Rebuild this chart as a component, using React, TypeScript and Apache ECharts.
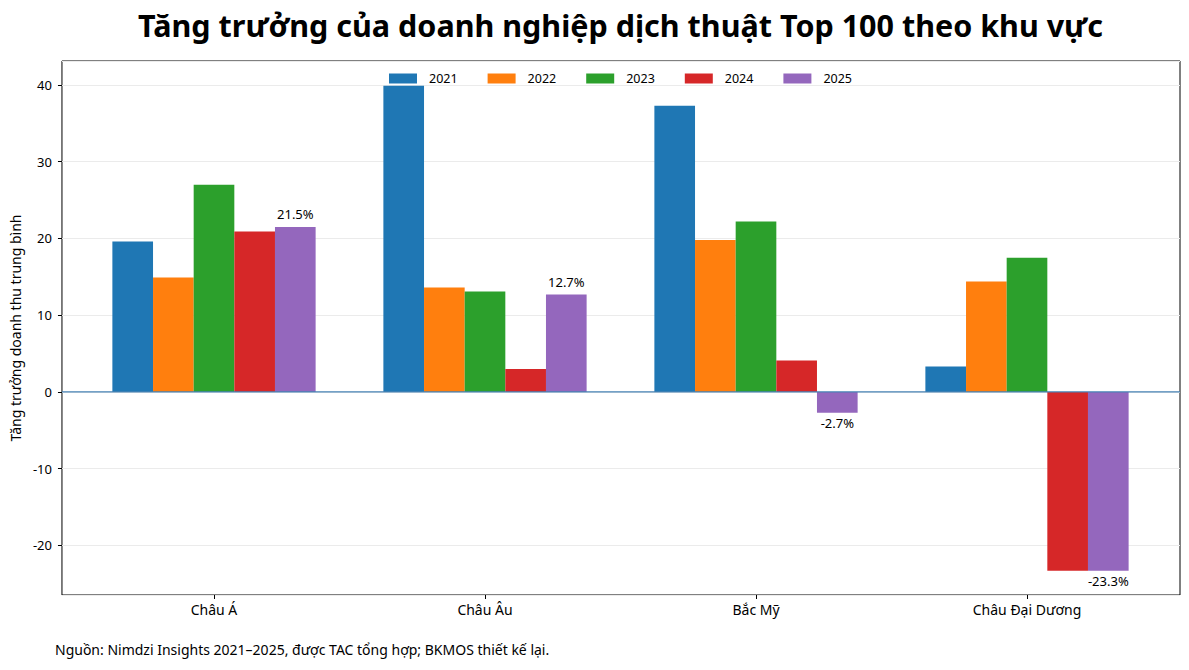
import React, { useEffect, useRef } from 'react';
import * as echarts from 'echarts';

const regions = ['Châu Á', 'Châu Âu', 'Bắc Mỹ', 'Châu Đại Dương'];
const years = ['2021', '2022', '2023', '2024', '2025'];

// average revenue growth (%) per region, one array per year
const growth2021 = [19.6, 39.9, 37.3, 3.3];
const growth2022 = [14.9, 13.6, 19.8, 14.4];
const growth2023 = [27.0, 13.1, 22.2, 17.5];
const growth2024 = [20.9, 3.0, 4.1, -23.3];
const growth2025 = [21.5, 12.7, -2.7, -23.3];

const yearColors = ['#1f77b4', '#ff7f0e', '#2ca02c', '#d62728', '#9467bd'];

const yMin = -26.47;
const yMax = 43.13;

const titleText = 'Tăng trưởng của doanh nghiệp dịch thuật Top 100 theo khu vực';
const yAxisName = 'Tăng trưởng doanh thu trung bình';
const footerText = 'Nguồn: Nimdzi Insights 2021–2025, được TAC tổng hợp; BKMOS thiết kế lại.';

const FONT = '"Noto Sans", "DejaVu Sans", sans-serif';

export default function App() {
  const chartRef = useRef<HTMLDivElement>(null);

  useEffect(() => {
    if (!chartRef.current) return;
    const chart = echarts.init(chartRef.current, null, { renderer: 'svg' });

    const allGrowth = [growth2021, growth2022, growth2023, growth2024, growth2025];

    const barSeries: any[] = allGrowth.map((values, i) => {
      const labelled = i === allGrowth.length - 1;
      return {
        name: years[i],
        type: 'bar',
        xAxisIndex: 1,
        yAxisIndex: 1,
        barGap: '0%',
        barCategoryGap: '25%',
        itemStyle: { color: yearColors[i] },
        data: values.map(v => ({
          value: v,
          label: labelled
            ? {
                show: true,
                position: v >= 0 ? 'top' : 'bottom',
                distance: v >= 0 ? 6 : 4,
                formatter: `${v.toFixed(1)}%`,
                fontSize: 13,
                color: '#000',
                fontFamily: FONT
              }
            : { show: false }
        })),
        z: 2
      };
    });

    const option: any = {
      animation: false,
      textStyle: { fontFamily: FONT },
      title: [
        {
          text: titleText,
          left: 620.5,
          textAlign: 'center',
          top: 9,
          padding: 0,
          textStyle: { fontSize: 30.5, fontWeight: 'bold', color: '#000', fontFamily: FONT }
        },
        {
          text: footerText,
          left: 55,
          top: 642,
          padding: 0,
          textStyle: { fontSize: 14, fontWeight: 'normal', color: '#000', fontFamily: FONT }
        }
      ],
      legend: {
        data: years,
        left: 389,
        top: 72,
        padding: 0,
        itemWidth: 28,
        itemHeight: 10,
        itemGap: 30,
        icon: 'rect',
        textStyle: { fontSize: 12.5, color: '#000', padding: [0, 0, 0, 7], fontFamily: FONT }
      },
      grid: [
        {
          left: 61,
          right: 9,
          top: 61,
          bottom: 75,
          show: true,
          borderColor: '#000',
          borderWidth: 1,
          backgroundColor: 'transparent'
        },
        { left: 78.5, right: 26.5, top: 61, bottom: 75 }
      ],
      xAxis: [
        { type: 'value', gridIndex: 0, min: 0, max: 1, show: false },
        {
          type: 'category',
          gridIndex: 1,
          data: regions,
          axisLine: { show: false, onZero: false },
          axisTick: { show: true, alignWithLabel: true, length: 4, lineStyle: { color: '#000' } },
          axisLabel: { fontSize: 14, color: '#000', margin: 7, fontFamily: FONT },
          splitLine: { show: false }
        }
      ],
      yAxis: [
        {
          type: 'value',
          gridIndex: 0,
          min: yMin,
          max: yMax,
          splitNumber: 7,
          name: yAxisName,
          nameLocation: 'middle',
          nameGap: 36,
          nameTextStyle: { fontSize: 14, color: '#000', fontFamily: FONT },
          axisLine: { show: false },
          axisTick: { show: true, length: 4, lineStyle: { color: '#000' } },
          axisLabel: {
            fontSize: 13,
            color: '#000',
            margin: 10,
            showMinLabel: false,
            showMaxLabel: false,
            fontFamily: FONT
          },
          splitLine: { show: true, lineStyle: { color: '#ebebeb', width: 1 } }
        },
        { type: 'value', gridIndex: 1, min: yMin, max: yMax, show: false }
      ],
      series: [
        ...barSeries,
        {
          name: 'zero',
          type: 'line',
          xAxisIndex: 0,
          yAxisIndex: 0,
          data: [
            [0, 0],
            [1, 0]
          ],
          symbol: 'none',
          silent: true,
          lineStyle: { color: '#4682b4', width: 1.3 },
          z: 5
        }
      ]
    };

    chart.setOption(option);

    return () => {
      chart.dispose();
    };
  }, []);

  return (
    <div
      ref={chartRef}
      style={{ position: 'absolute', left: 0, top: 0, width: '1189px', height: '670px', background: '#fff' }}
    />
  );
}
